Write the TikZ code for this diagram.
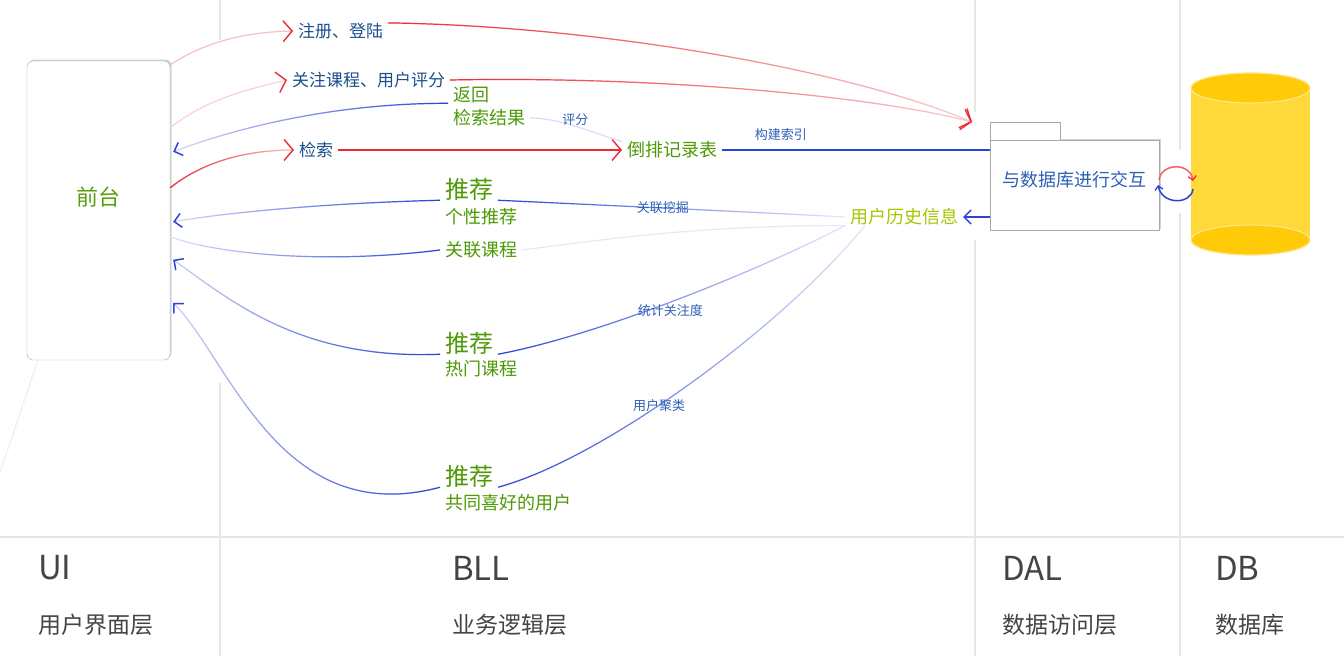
\documentclass[tikz,border=0pt]{standalone}
\usepackage{fontspec}
\setmainfont{Noto Sans CJK SC}
\usetikzlibrary{arrows.meta,calc,shadows,fadings}
\definecolor{laneGray}{HTML}{E6E6E6}
\definecolor{boxGray}{HTML}{A8A8A8}
\definecolor{opBlue}{HTML}{1B4F8E}
\definecolor{bllGreen}{HTML}{4E9A06}
\definecolor{uiGreen}{HTML}{5A9E10}
\definecolor{histGreen}{HTML}{AAC400}
\definecolor{edgeBlue}{HTML}{2E5FB8}
\definecolor{linkRed}{HTML}{EE2A36}
\definecolor{linkBlue}{HTML}{2A42D6}
\definecolor{layerGray}{HTML}{444444}
\definecolor{dbBody}{HTML}{FFD83A}
\definecolor{dbFace}{HTML}{FFCA08}
\definecolor{dbEdge}{HTML}{FFE682}
\tikzset{
  lane/.style={draw=laneGray, line width=1.5pt},
  opTxt/.style={anchor=west, inner sep=0pt, outer xsep=5pt, text=opBlue, font=\fontsize{17}{20}\selectfont},
  bllTxt/.style={anchor=west, inner sep=0pt, outer xsep=5pt, text=bllGreen, font=\fontsize{18}{20}\selectfont},
  recTxt/.style={bllTxt, font=\fontsize{24}{26}\selectfont},
  edgeTxt/.style={inner sep=0pt, text=edgeBlue, font=\fontsize{13}{15}\selectfont},
  layerTxt/.style={anchor=west, inner sep=0pt, text=layerGray, font=\fontsize{33}{36}\selectfont},
  layerSub/.style={anchor=west, inner sep=0pt, text=layerGray, font=\fontsize{23}{26}\selectfont},
  redLink/.style={draw=linkRed, line width=1.2pt},
  blueLink/.style={draw=linkBlue, line width=1.2pt},
  redTip/.style={-{Straight Barb[length=9pt,width=21pt,line width=1.4pt,color=linkRed]}},
  blueTip/.style={-{Straight Barb[length=7pt,width=14pt,line width=1.5pt,color=linkBlue]}},
  redFade/.style={postaction={draw=linkRed, line width=1.2pt, -, path fading=#1}},
  blueFade/.style={postaction={draw=linkBlue, line width=1.2pt, -, path fading=#1}},
  shade box/.style={drop shadow={opacity=0.35,shadow xshift=1.5pt,shadow yshift=1.5pt}},
}
\begin{document}
\begin{tikzpicture}[x=1pt,y=1pt,yscale=-1,xscale=1]
\useasboundingbox (0,0) rectangle (1344,656);
\fill[white] (0,0) rectangle (1344,656);
%Lanes
\draw[lane] (220,0) -- (220,40);
\draw[lane] (220,383) -- (220,656);
\draw[lane] (975,0) -- (975,112);
\draw[lane] (975,240) -- (975,656);
\draw[lane] (1180,0) -- (1180,150);
\draw[lane] (1180,213) -- (1180,656);
\draw[lane] (0,537) -- (1344,537);
%Layer names
\node[layerTxt] (ui name) at (38,568) {UI};
\node[layerSub] (ui sub) at (38,625) {用户界面层};
\node[layerTxt] (bll name) at (452,568) {BLL};
\node[layerSub] (bll sub) at (452,625) {业务逻辑层};
\node[layerTxt] (dal name) at (1002,568) {DAL};
\node[layerSub] (dal sub) at (1002,625) {数据访问层};
\node[layerTxt] (db name) at (1215,568) {DB};
\node[layerSub] (db sub) at (1215,625) {数据库};
%Shape: Rounded Rect
\node[draw=boxGray, fill=white, rounded corners=6pt, shade box, minimum width=143pt, minimum height=299pt,
      text=uiGreen, font=\fontsize{22}{24}\selectfont, text height=19pt, text depth=30pt] (ui) at (98.5,210.5) {前台};
\coordinate (uiP1) at ($(ui.north east)+(0,4)$);
\coordinate (uiP2) at ($(ui.north east)+(0,67)$);
\coordinate (uiP3) at ($(ui.north east)+(3,91)$);
\coordinate (uiP4) at ($(ui.north east)+(0,127)$);
\coordinate (uiP5) at ($(ui.north east)+(3,161)$);
\coordinate (uiP6) at ($(ui.north east)+(0,176)$);
\coordinate (uiP7) at ($(ui.north east)+(3,199)$);
\coordinate (uiP8) at ($(ui.north east)+(3,242)$);
\coordinate (uiTail) at (0,473);
\draw[draw=laneGray!70, line width=1pt] ($(ui.south west)+(11,0)$) -- (uiTail);
%Shape: Folder
\node[draw=boxGray, fill=white, shade box, minimum width=169pt, minimum height=90pt, text=edgeBlue,
      font=\fontsize{18}{20}\selectfont, text height=16pt, text depth=14pt] (dal) at (1074.5,185) {与数据库进行交互};
\draw[draw=boxGray, fill=white] (dal.north west) -- ++(0,-18) -- ++(70,0) -- ++(0,18);
\coordinate (dalIn) at (972,122);
%Shape: Can
\fill[dbBody] (1191,88) rectangle (1310,240);
\draw[fill=dbFace, draw=dbEdge, line width=1.2pt] (1250.5,240) ellipse [x radius=59.5pt, y radius=15pt];
\draw[fill=dbFace, draw=dbEdge, line width=1.2pt] (1250.5,88) ellipse [x radius=59.5pt, y radius=15pt];
\draw[redLink, draw=linkRed!75, line width=1.5pt, -{Straight Barb[length=4pt,width=8pt,line width=1.3pt,color=linkRed]}]
  (1159,180) .. controls (1161,163) and (1190,162) .. (1193,181);
\draw[blueLink, line width=1.5pt, -{Straight Barb[length=4pt,width=8pt,line width=1.3pt]}]
  (1193,189) .. controls (1191,205) and (1162,205) .. (1158,185);
%Operations
\node[opTxt] (reg) at (293,31) {注册、登陆};
\node[opTxt] (care) at (287,80) {关注课程、用户评分};
\node[opTxt] (search) at (294,150) {检索};
%Business logic
\node[bllTxt] (ret) at (448,95) {返回};
\node[bllTxt] (retsub) at (448,118) {检索结果};
\node[bllTxt] (inv) at (622,150) {倒排记录表};
\node[recTxt] (rec1) at (440,189) {推荐};
\node[bllTxt] (rec1sub) at (440,217) {个性推荐};
\node[bllTxt] (rel) at (440,250) {关联课程};
\node[recTxt] (rec2) at (440,343) {推荐};
\node[bllTxt] (rec2sub) at (440,369) {热门课程};
\node[recTxt] (rec3) at (440,476) {推荐};
\node[bllTxt] (rec3sub) at (440,503) {共同喜好的用户};
\node[bllTxt, text=histGreen] (hist) at (845,217) {用户历史信息};
%Red links
\draw[redLink, draw=linkRed!30, redTip] (uiP1) .. controls (205,42) and (245,32) .. (reg.west);
\draw[redLink, draw=linkRed!25, redTip, redFade=east] (reg.north east) .. controls (600,26) and (850,70) .. (dalIn);
\draw[redLink, draw=linkRed!22, redTip] (uiP2) .. controls (205,100) and (245,90) .. (care.west);
\draw[redLink, draw=linkRed!25, redTip, redFade=east] (care.east) .. controls (650,76) and (870,95) .. (dalIn);
\draw[redLink, draw=linkRed!30, redTip, redFade=east] (uiP4) .. controls (205,160) and (250,150) .. (search.west);
\draw[redLink, redTip] (search.east) -- (inv.west);
%Blue links
\draw[blueLink, draw=linkBlue!20, blueTip, blueFade=west] (ret.south west) .. controls (330,103) and (230,130) .. (uiP3);
\draw[blueLink, draw=linkBlue!18] (inv.north west) .. controls (590,132) and (560,118) .. (retsub.east)
  node[edgeTxt, pos=0.5, above=0pt] (lbl score) {评分};
\draw[blueLink] (inv.east) -- (inv.east -| dal.west)
  node[edgeTxt, pos=0.22, above=9pt] (lbl index) {构建索引};
\draw[blueLink, blueTip] (hist.east -| dal.west) -- (hist.east);
\draw[blueLink, draw=linkBlue!12, blueFade=east] (hist.west) .. controls (750,212) and (600,205) .. (rec1.south east)
  node[edgeTxt, pos=0.53] (lbl mine) {关联挖掘};
\draw[blueLink, draw=linkBlue!20, blueTip, blueFade=west] (rec1.south west) .. controls (330,203) and (230,212) .. (uiP5);
\draw[blueLink, draw=linkBlue!12] (hist.south west) .. controls (700,225) and (600,240) .. (rel.east);
\draw[blueLink, draw=linkBlue!15, blueFade=west] (rel.west) .. controls (330,264) and (220,255) .. (uiP6);
\draw[blueLink, draw=linkBlue!12, blueFade=east] (hist.south west) .. controls (760,270) and (600,335) .. (rec2.south east)
  node[edgeTxt, pos=0.52, below=2pt] (lbl count) {统计关注度};
\draw[blueLink, draw=linkBlue!25, blueTip, blueFade=west] (rec2.south west) .. controls (300,360) and (230,300) .. (uiP7);
\draw[blueLink, draw=linkBlue!12, blueFade=east] ($(hist.south west)+(20,0)$) .. controls (780,330) and (600,460) .. (rec3.south east)
  node[edgeTxt, pos=0.57] (lbl cluster) {用户聚类};
\draw[blueLink, draw=linkBlue!25, blueTip, blueFade=west] (rec3.south west) .. controls (280,530) and (230,360) .. (uiP8);
\end{tikzpicture}
\end{document}
